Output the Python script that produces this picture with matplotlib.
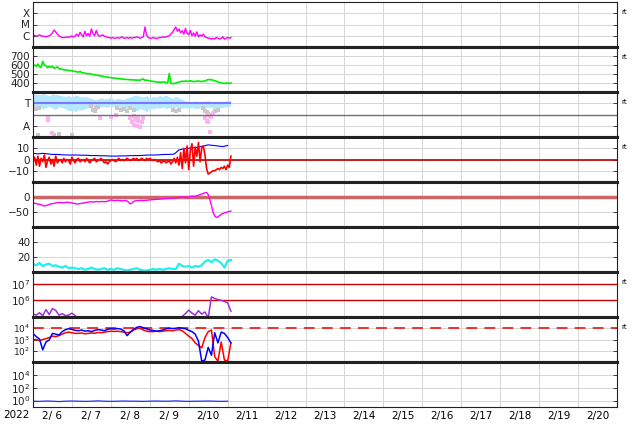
import numpy as np
import matplotlib
matplotlib.use("Agg")
import matplotlib.pyplot as plt
from matplotlib.ticker import FixedLocator, FixedFormatter, NullLocator

# all series start 2022-02-06 00 UT

# hourly
xray = [10, 11, 9, 10, 12, 10, 9, 9, 8, 9, 10,
        12, 18, 32, 22, 14, 10,
        8, 7, 7, 7, 8, 7, 9, 9,
        8, 10, 14, 9, 20, 12, 8, 25, 10, 16, 9, 40, 15, 10, 30, 12,
        9, 10, 12, 9, 8, 7,
        7, 6, 7, 6, 6, 7, 6, 7, 8, 6, 6, 7, 6, 7, 6, 7, 7, 8, 7, 6, 7, 8,
        60, 12,
        7, 6, 6, 7, 6, 6, 6, 7, 7, 8, 7, 8, 9, 10,
        14, 20, 35, 60, 25, 40, 18, 28, 14, 45,
        16, 12, 30, 10, 18, 9, 22, 8, 12, 9, 14, 8,
        7, 6, 6, 5, 6, 5, 7, 6, 5, 6, 8, 5, 6, 7, 6, 7]  # x1e-7 W/m2

speed = [590, 600, 585, 610, 580, 575, 640, 600, 590, 570, 585,
         575, 585, 565, 570, 580, 560, 555,
         550, 548, 545, 542, 540, 538, 535, 530, 528, 525, 520, 530, 515,
         512, 510, 505, 500, 505, 498, 495, 490, 488, 485, 480, 478, 475, 470, 468, 465, 462,
         460, 458, 455, 452, 450, 448, 445, 445, 442, 440, 440, 438, 436, 435, 434, 433, 432, 432, 430, 440, 445,
         430, 432, 428, 425, 420, 418, 415, 412, 410, 410, 408, 412, 410, 405, 400, 505,
         396, 392, 395, 398, 405, 410, 415, 420, 418, 422, 420, 418, 425, 420, 415, 418,
         420, 422, 418, 415, 420, 425, 430, 440, 435, 438, 430, 425,
         420, 410, 405, 400, 398, 395, 400, 398, 396, 400]

bz = [-3, 2, -5, 3, -6, 1, -2, 4, -7, -1, 2, -4, 0, -6, 3, -3,
      -1, 0, -3, 1, -2, 0, -1, -4, 2, -1, -3, 0, 1, -2, -1,
      0, -2, 1, -1, -3, -1, 0, 1, -2, -1, 0, 1, -1, -3, -2,
      -4, -2, -1, 0, -1, -2, 0, 1, -1, 0, -1, 0, 1, 0, -1,
      0, 1, 0, 1, -1, 0, 1, 0, -1, 1, 0, 1, 0, -1, 0,
      -1, -2, -1, -3, -2, -1, -3, -2, -1, -4, -2, 1, -3,
      2, -5, 6, -8, 10, -3, 12, -9, 8, 14, -6, 11, 3, 15, -2, 10,
      12, 4, -8, -13,
      -12, -11, -10, -10, -9, -8, -9, -7, -8, -6, -9, -5, -7, 3]

dst = [-20, -21, -22, -24, -24, -26, -28, -30, -29, -27, -25, -23,
       -22, -21, -20, -19, -19, -18, -19, -19, -18, -17, -18, -19, -20,
       -21, -22, -23, -23, -22, -21, -20, -19, -18, -17, -16,
       -16, -17, -16, -15, -16, -16, -15, -15, -16, -15, -14, -12, -10,
       -11, -12, -12, -11, -12, -12, -13, -12, -12, -13,
       -18, -23, -20, -15, -13, -12,
       -12, -12, -11, -12, -11, -11, -10, -10, -9, -9, -8, -8, -8, -7,
       -7, -6, -6, -5, -5, -4, -4, -3, -4, -3, -2, -1, 1, 0,
       1, -1, -2, 0, 2, 3, 2, 3, 4, 6,
       8, 10, 12, 14, 15, 8, -8, -28, -50, -63, -68, -66, -62, -58, -55, -53, -51, -50, -48, -47]

# 3-hourly
bt = [5.5, 5, 5.5, 5, 4.5, 4.5, 4.2, 4, 4, 4, 3.8, 3.8, 3.5, 3.5, 3.3, 3.3, 3, 3, 3.2, 3.2,
      3.4, 3.5, 3.5, 3.8, 4, 4, 4.2, 4.5, 4.5, 4.8,
      8.5, 9.5, 10, 10.5, 11, 12, 13, 12.5, 12, 11.5, 12.5]

# 2-hourly
phi_hi = [340, 345, 335, 350, 340, 330, 345, 340, 335, 330,
          325, 330, 320, 335, 330, 320, 325,
          315, 310, 300, 305,
          315, 305, 310, 320, 300, 310, 305, 300, 315,
          320, 330, 335, 325, 320, 330, 315, 325, 320,
          330, 325, 335, 320, 310, 325, 315, 300, 290,
          285, 280, 290, 275, 280, 285, 290, 280, 275, 285,
          280, 285, 290, 290]
phi_lo = [230, 215, 240, 225, 235, 245, 230, 220, 240, 235,
          225, 210, 215, 205, 220, 215, 225,
          235, 240, 250, 235,
          240, 245, 235, 250, 240, 245, 235, 240, 230,
          225, 215, 210, 225, 220, 200, 230, 225, 235,
          230, 240, 225, 235, 230, 240, 235, 230, 235,
          230, 235, 225, 230, 235, 230, 240, 235, 225, 230,
          235, 240, 245, 250]

dens = [11, 9, 12, 8, 10, 11, 8, 9, 7, 6, 8, 5,
        6, 5, 4, 5, 3, 4, 6, 4, 3, 4, 5, 3,
        4, 3, 5, 4, 3, 2, 3, 4, 5, 3, 2, 2,
        3, 4, 3, 4, 3, 4, 5, 4, 4,
        11, 8, 7, 8, 6, 8, 7, 9,
        14, 16, 13, 17, 15, 12, 6, 15, 16]

nan = np.nan
elec = [1.5, 1.3, 1.8, 1.2, 2.8, 1.4, 3.2, 2.5, 1.3, 1.6, 1.2, 1.3, 1.7, 1.2] + [nan] * 32 + \
       [1.1, 1.6, 2.6, 1.7, 1.3, 2.4, 1.5, 2.0, 0.9, 16, 13, 11, 10, 8.5, 7, 2.2]  # x1e5

flux_b = [3500, 1800, 1100, 120, 600, 900, 3500, 3000, 2500, 5000,
          7500, 9000, 8000, 6500, 6000, 7000, 5500, 6000, 5000, 6500,
          7500, 7000, 6000, 8000, 9000, 8500, 9500, 8500, 6000, 2200,
          4500, 8000, 12000, 14000, 11000, 9000, 7000, 6500, 5500, 6000,
          7000, 9000, 10000, 9500, 10000, 11000, 10000, 9000, 6500, 5000,
          3000, 700, 12, 15, 200, 40, 4000, 500, 4500, 3500, 1500, 500]
flux_r = [900, 1000, 800, 1000, 1200, 1500, 2000, 1800, 2200, 3000,
          4000, 4500, 4000, 3500, 3500, 3800, 3200, 3500, 3800, 3600,
          4200, 4000, 4500, 5000, 5500, 5200, 5500, 5000, 4500, 4000,
          4500, 7000, 9000, 10000, 7000, 5500, 5000, 5000, 5500, 5000,
          5500, 6000, 6500, 6000, 7000, 7500, 6000, 3500, 2000, 1200,
          500, 300, 180, 1500, 5000, 7000, 30, 12, 600, 15, 12, 500]

# 4-hourly
low = [0.8, 0.75, 0.85, 0.8, 0.7, 0.8, 0.85, 0.8, 0.75, 0.8, 0.9, 0.8, 0.75, 0.8, 0.85, 0.8,
       0.8, 0.75, 0.8, 0.85, 0.8, 0.8, 0.9, 0.8, 0.75, 0.8, 0.8, 0.85, 0.8, 0.75, 0.8]

# scattered points in the T/A panel (hour, value)
gray_h = [0, 2, 4, 36, 37, 38, 39, 40, 52, 54, 56, 58, 60, 62, 86, 88, 90,
          105, 106, 107, 108, 109, 110, 111, 112, 114, 3, 13, 16, 24]
gray_v = [240, 225, 235, 250, 220, 210, 235, 240, 230, 215, 225, 210, 230, 220, 215, 205, 220,
          230, 210, 200, 185, 170, 180, 195, 205, 215, 18, 15, 22, 18]
pink_h = [9, 9, 12, 41, 48, 51, 60, 61, 62, 62, 63, 64, 65, 65, 66, 67, 68,
          106, 108, 108, 109, 110, 111, 107]
pink_v = [150, 135, 30, 155, 160, 175, 150, 120, 170, 100, 140, 90, 130, 160, 80, 120, 150,
          150, 175, 120, 40, 160, 190, 130]

day_labels = ["2/ 6", "2/ 7", "2/ 8", "2/ 9", "2/10", "2/11", "2/12", "2/13",
              "2/14", "2/15", "2/16", "2/17", "2/18", "2/19", "2/20"]


def days(vals, step):
    return np.arange(len(vals)) * step / 24.0


fig, axs = plt.subplots(9, 1, figsize=(6.34, 4.24), dpi=100, sharex=True)
fig.subplots_adjust(left=33/634, right=617/634, top=1-2/424, bottom=1-407/424, hspace=0)

# X-ray
ax = axs[0]
ax.plot(days(xray, 1), np.array(xray) * 1e-7, color='#ff00ff', lw=1)
ax.set_yscale('log')
ax.set_ylim(1e-7, 1e-3)
ax.yaxis.set_major_locator(FixedLocator([1e-6, 1e-5, 1e-4]))
ax.yaxis.set_major_formatter(FixedFormatter(['C', 'M', 'X']))

# solar wind speed
ax = axs[1]
ax.plot(days(speed, 1), speed, color='#00ee00', lw=1.2)
ax.set_ylim(300, 800)
ax.yaxis.set_major_locator(FixedLocator([400, 500, 600, 700]))

# T / A
ax = axs[2]
ax.fill_between(days(phi_hi, 2), phi_lo, phi_hi, color='#b4e8ff', lw=0)
ax.scatter(np.array(gray_h) / 24.0, gray_v, s=5, marker='s', color='#c8c8c8', lw=0)
ax.scatter(np.array(pink_h) / 24.0, pink_v, s=6, marker='s', color='#ffb0f0', lw=0)
ax.axhline(180, color='#707070', lw=1)
ax.hlines(270, 0, days(speed, 1)[-1], color='#7777ff', lw=1.5)
ax.set_ylim(0, 360)
ax.yaxis.set_major_locator(FixedLocator([90, 180, 270]))
ax.yaxis.set_major_formatter(FixedFormatter(['A', '', 'T']))

# Bt / Bz
ax = axs[3]
ax.axhline(0, color='#bb0000', lw=1.2)
ax.plot(days(bt, 3), bt, color='#0000ff', lw=0.8)
ax.plot(days(bz, 1), bz, color='#ff0000', lw=1.2)
ax.set_ylim(-20, 20)
ax.yaxis.set_major_locator(FixedLocator([-10, 0, 10]))

# Dst
ax = axs[4]
ax.axhline(0, color='#cc6666', lw=2.5)
ax.plot(days(dst, 1), dst, color='#ff00ff', lw=1)
ax.set_ylim(-100, 50)
ax.yaxis.set_major_locator(FixedLocator([-50, 0]))

# density
ax = axs[5]
ax.plot(days(dens, 2), dens, color='#22eeee', lw=1.6)
ax.set_ylim(0, 60)
ax.yaxis.set_major_locator(FixedLocator([20, 40]))

# electrons
ax = axs[6]
ax.axhline(1e6, color='#cc0000', lw=1)
ax.axhline(1e7, color='#cc0000', lw=1)
ax.plot(days(elec, 2), np.array(elec) * 1e5, color='#a030d8', lw=1.1)
ax.set_yscale('log')
ax.set_ylim(1e5, 5e7)
ax.yaxis.set_major_locator(FixedLocator([1e6, 1e7]))

# protons
ax = axs[7]
ax.axhline(1e4, color='#ee2222', lw=1.3, ls=(0, (6, 4)))
ax.plot(days(flux_r, 2), flux_r, color='#ff0000', lw=1.1)
ax.plot(days(flux_b, 2), flux_b, color='#0000ff', lw=1.1)
ax.set_yscale('log')
ax.set_ylim(1e1, 1e5)
ax.yaxis.set_major_locator(FixedLocator([1e2, 1e3, 1e4]))

# bottom
ax = axs[8]
ax.plot(days(low, 4), low, color='#2233ee', lw=0.9)
ax.set_yscale('log')
ax.set_ylim(1e-1, 1e6)
ax.yaxis.set_major_locator(FixedLocator([1e0, 1e2, 1e4]))

n = len(axs)
for i, ax in enumerate(axs):
    ax.yaxis.set_minor_locator(NullLocator())
    ax.set_xlim(0, 15)
    ax.xaxis.set_major_locator(FixedLocator(range(1, 15)))
    ax.xaxis.set_major_formatter(FixedFormatter([''] * 14))
    ax.xaxis.set_minor_locator(FixedLocator(np.arange(15) + 0.5))
    ax.xaxis.set_minor_formatter(FixedFormatter(day_labels))
    ax.tick_params(axis='x', which='both', length=0, pad=3, labelsize=7.5)
    ax.tick_params(axis='y', which='major', direction='in', length=3, width=0.6,
                   pad=2, labelsize=7.5 if i != 7 else 6.5, right=True, colors='#222222')
    ax.grid(True, which='major', color='#d6d6d6', lw=0.7)
    ax.set_axisbelow(True)
    ax.spines['left'].set_linewidth(0.8)
    ax.spines['right'].set_linewidth(0.8)
    ax.spines['top'].set_linewidth(2.2 if i > 0 else 0.8)
    ax.spines['bottom'].set_linewidth(2.2 if i < n - 1 else 0.8)
    for s in ax.spines.values():
        s.set_color('#222222')
    if i in (0, 1, 2, 3, 6, 7):
        ax.text(1.008, 0.78, 'rt', transform=ax.transAxes, fontsize=5, va='center')

fig.text(30/634, 1-415/424, '2022', ha='right', va='center', fontsize=7.5)

fig.savefig('out.png', dpi=100)
